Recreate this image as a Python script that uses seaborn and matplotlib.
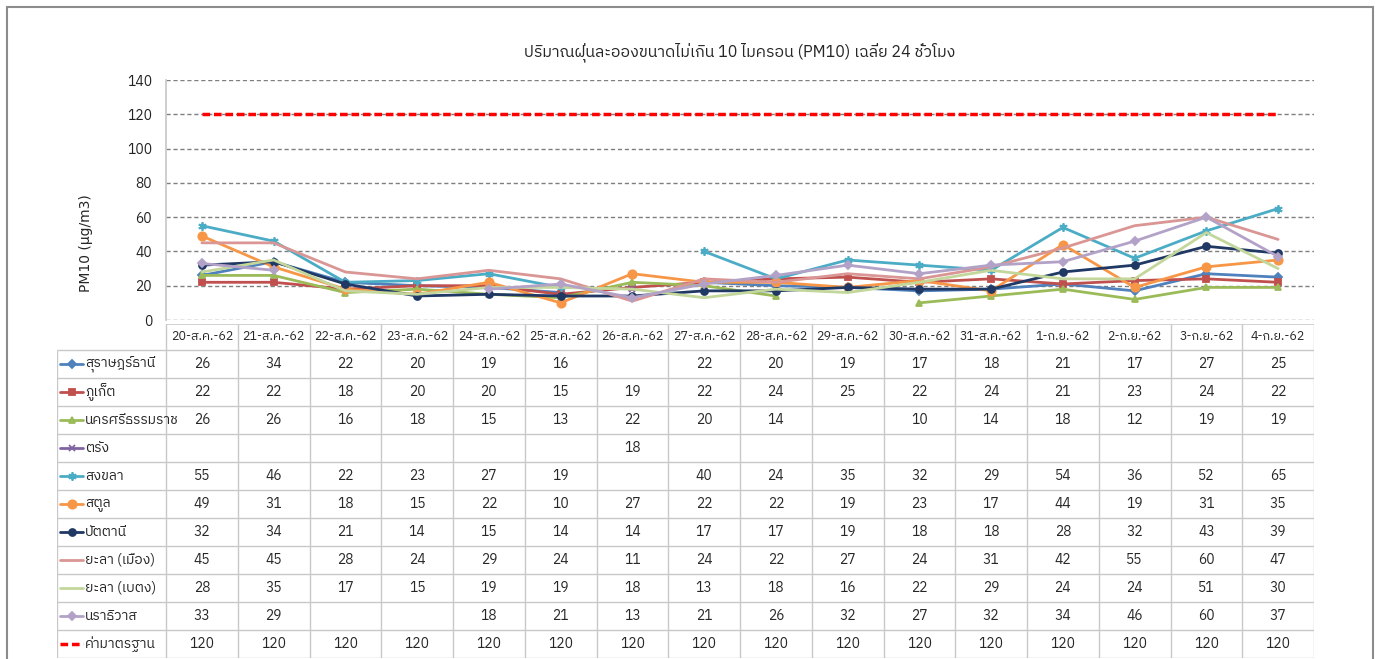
import pandas as pd
import matplotlib.pyplot as plt
import seaborn as sns
from matplotlib import font_manager
from matplotlib.ft2font import FT2Font
from matplotlib.patches import Rectangle

# --- data (PM10 24h average, ug/m3) ---
dates = ['20-ส.ค.-62', '21-ส.ค.-62', '22-ส.ค.-62', '23-ส.ค.-62', '24-ส.ค.-62',
         '25-ส.ค.-62', '26-ส.ค.-62', '27-ส.ค.-62', '28-ส.ค.-62', '29-ส.ค.-62',
         '30-ส.ค.-62', '31-ส.ค.-62', '1-ก.ย.-62', '2-ก.ย.-62', '3-ก.ย.-62', '4-ก.ย.-62']

surat = [26, 34, 22, 20, 19, 16, None, 22, 20, 19, 17, 18, 21, 17, 27, 25]
phuket = [22, 22, 18, 20, 20, 15, 19, 22, 24, 25, 22, 24, 21, 23, 24, 22]
nakhon = [26, 26, 16, 18, 15, 13, 22, 20, 14, None, 10, 14, 18, 12, 19, 19]
trang = [None, None, None, None, None, None, 18, None, None, None, None, None, None, None, None, None]
songkhla = [55, 46, 22, 23, 27, 19, None, 40, 24, 35, 32, 29, 54, 36, 52, 65]
satun = [49, 31, 18, 15, 22, 10, 27, 22, 22, 19, 23, 17, 44, 19, 31, 35]
pattani = [32, 34, 21, 14, 15, 14, 14, 17, 17, 19, 18, 18, 28, 32, 43, 39]
yala_muang = [45, 45, 28, 24, 29, 24, 11, 24, 22, 27, 24, 31, 42, 55, 60, 47]
yala_betong = [28, 35, 17, 15, 19, 19, 18, 13, 18, 16, 22, 29, 24, 24, 51, 30]
narathiwat = [33, 29, None, None, 18, 21, 13, 21, 26, 32, 27, 32, 34, 46, 60, 37]
standard = [120] * 16

names = ['สุราษฎร์ธานี', 'ภูเก็ต', 'นครศรีธรรมราช', 'ตรัง', 'สงขลา', 'สตูล',
         'ปัตตานี', 'ยะลา (เมือง)', 'ยะลา (เบตง)', 'นราธิวาส']
series = [surat, phuket, nakhon, trang, songkhla, satun, pattani,
          yala_muang, yala_betong, narathiwat]
std_name = 'ค่ามาตรฐาน'

colors = ['#4F81BD', '#C0504D', '#9BBB59', '#8064A2', '#4BACC6', '#F79646',
          '#1F3864', '#D99694', '#C3D69B', '#B3A2C7']
markers = ['D', 's', '^', 'x', (6, 2, 0), 'o', 'o', None, None, 'D']
msizes = [4, 5, 5, 5, 6, 6, 5, 0, 0, 4.5]


def thai_font():
    # pick an installed font that has Thai glyphs
    cands = sorted(font_manager.fontManager.ttflist,
                   key=lambda f: (0 if 'Thai' in f.name else 1, f.name))
    for f in cands:
        try:
            if 0x0E01 in FT2Font(f.fname).get_charmap():
                return f.name
        except Exception:
            pass
    return 'DejaVu Sans'


sns.set_theme(style='white')
plt.rcParams['font.family'] = [thai_font(), 'DejaVu Sans']

W, H = 1379, 659
fig = plt.figure(figsize=(W / 100, H / 100), dpi=100)
fig.patches.append(Rectangle((7 / W, -0.01), 1366 / W, 1 - 7 / H + 0.01,
                             transform=fig.transFigure, fill=False,
                             edgecolor='#8C8C8C', linewidth=1.5))

ax = fig.add_axes([166 / W, 1 - 320 / H, 1148 / W, 240 / H])
tax = fig.add_axes([57 / W, 1 - 658 / H, 1257 / W, 334 / H])

x = list(range(len(dates)))

# series lines, broken where data is missing
for vals, c, m, ms in zip(series, colors, markers, msizes):
    s = pd.Series(vals, dtype=float)
    ok = s.notna()
    for _, part in s[ok].groupby(s.isna().cumsum()[ok]):
        sns.lineplot(x=list(part.index), y=list(part.values), ax=ax, color=c,
                     linewidth=2, marker=m, markersize=ms, markeredgecolor=c,
                     markeredgewidth=1.3, legend=False)

sns.lineplot(x=x, y=standard, ax=ax, color='#FF0000', linewidth=2.5,
             linestyle=(0, (2.2, 1.1)), legend=False)

ax.set_xlim(-0.5, 15.5)
ax.set_ylim(0, 140)
ax.set_yticks(range(0, 141, 20))
ax.set_xticks([])
ax.set_xlabel('')
ax.tick_params(axis='y', length=0, pad=10, labelsize=10, labelcolor='#222222')
ax.yaxis.grid(True, color='#7F7F7F', linestyle=(0, (3, 2)), linewidth=1)
ax.set_axisbelow(True)
for sp in ['top', 'right', 'bottom']:
    ax.spines[sp].set_visible(False)
ax.spines['left'].set_color('#C8C8C8')
ax.set_ylabel('PM10 (µg/m3)', fontsize=10, family='DejaVu Sans')
ax.yaxis.set_label_coords(-0.064, 0.32)
ax.set_title('ปริมาณฝุ่นละอองขนาดไม่เกิน 10 ไมครอน (PM10) เฉลี่ย 24 ชั่วโมง',
             fontsize=11.5, pad=17)

# --- data table under the chart ---
lab_w = 109 / 71.75
x0 = -0.5 - lab_w
hdr = 26 / 28
nrow = len(series) + 1
tax.set_xlim(x0, 15.5)
tax.set_ylim(nrow, -hdr)
tax.axis('off')
grid_c = '#C8C8C8'
tax.hlines(-hdr, -0.5, 15.5, color=grid_c, lw=1.2)
tax.hlines(range(nrow + 1), x0, 15.5, color=grid_c, lw=1)
tax.vlines(x0, 0, nrow, color=grid_c, lw=1)
tax.vlines([i - 0.5 for i in range(len(dates) + 1)], -hdr, nrow, color=grid_c, lw=1)

for i, d in enumerate(dates):
    tax.text(i, -hdr / 2, d, ha='center', va='center', fontsize=9)

key_l, key_r = x0 + 3 / 71.75, x0 + 26 / 71.75
for r, (name, vals, c, m, ms) in enumerate(zip(names, series, colors, markers, msizes)):
    yc = r + 0.5
    tax.plot([key_l, key_r], [yc, yc], color=c, lw=2)
    if m is not None:
        tax.plot([(key_l + key_r) / 2], [yc], marker=m, color=c, markersize=ms,
                 markeredgecolor=c, markeredgewidth=1.3)
    tax.text(key_r + 2 / 71.75, yc, name, ha='left', va='center', fontsize=10)
    for i, v in enumerate(vals):
        if v is not None:
            tax.text(i, yc, str(v), ha='center', va='center', fontsize=10)

yc = nrow - 0.5
tax.plot([key_l, key_r], [yc, yc], color='#FF0000', lw=2.5, linestyle=(0, (2.2, 1.1)))
tax.text(key_r + 2 / 71.75, yc, std_name, ha='left', va='center', fontsize=10)
for i, v in enumerate(standard):
    tax.text(i, yc, str(v), ha='center', va='center', fontsize=10)

fig.savefig('out.png', dpi=100)
